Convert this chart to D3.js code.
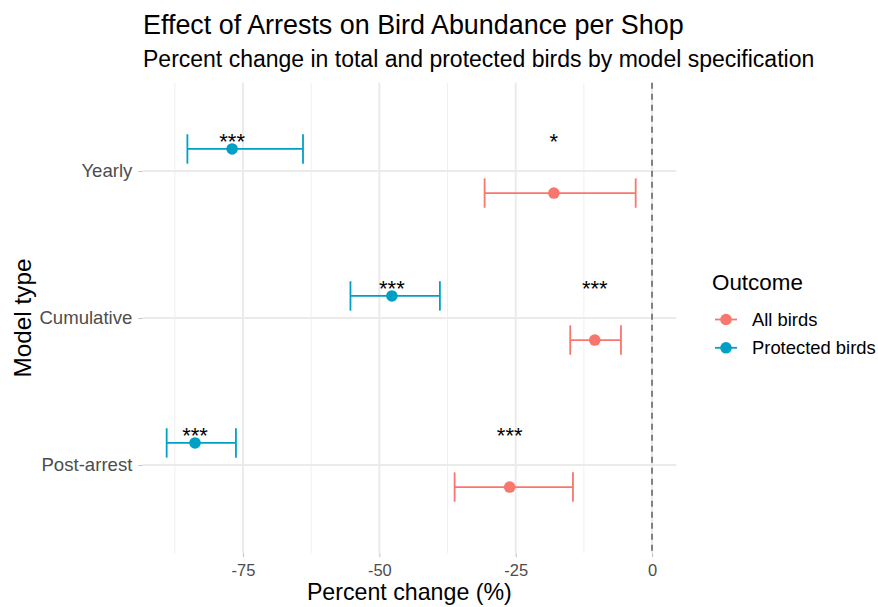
<!DOCTYPE html>
<html>
<head>
<meta charset="utf-8">
<script src="https://cdn.jsdelivr.net/npm/d3@7"></script>
<style>
  html, body { margin: 0; padding: 0; background: #ffffff; }
  svg { display: block; font-family: "Liberation Sans", Arial, Helvetica, sans-serif; }
</style>
</head>
<body>
<svg id="chart" width="878" height="607"></svg>
<script>
// Model specifications (top to bottom)
const models = ["Yearly", "Cumulative", "Post-arrest"];
const outcomes = ["All birds", "Protected birds"];

// Percent change estimates with confidence limits
const allEst = [-18.0, -10.5, -26.1];
const allLo  = [-30.7, -15.0, -36.2];
const allHi  = [-3.0,  -5.7,  -14.5];
const protEst = [-77.0, -47.7, -83.8];
const protLo  = [-85.2, -55.3, -89.0];
const protHi  = [-64.0, -38.9, -76.3];

// Significance markers
const allSig  = ["*", "***", "***"];
const protSig = ["***", "***", "***"];

const xTicks = [-75, -50, -25, 0];
const xMinor = [-87.5, -62.5, -37.5, -12.5];

const colors = { "All birds": "#F8766D", "Protected birds": "#00A0C6" };

const rows = [];
models.forEach((m, i) => {
  rows.push({ model: m, outcome: "All birds", est: allEst[i], lo: allLo[i], hi: allHi[i], sig: allSig[i] });
  rows.push({ model: m, outcome: "Protected birds", est: protEst[i], lo: protLo[i], hi: protHi[i], sig: protSig[i] });
});

const svg = d3.select("#chart");
const panel = { left: 142.4, right: 676.3, top: 82.8, bottom: 553.2 };

// x domain: data extent plus reference line at 0, expanded by 5%
const lo = d3.min(rows, d => d.lo), hi = Math.max(0, d3.max(rows, d => d.hi));
const pad = (hi - lo) * 0.05;
const x = d3.scaleLinear().domain([lo - pad, hi + pad]).range([panel.left, panel.right]);
const y = d3.scalePoint().domain(models).range([panel.top, panel.bottom]).padding(0.6);
const dodge = y.step() * 0.15;
const yPos = d => y(d.model) + (d.outcome === "Protected birds" ? -dodge : dodge);

// Grid
const grid = svg.append("g");
grid.selectAll("line.minor").data(xMinor).join("line")
  .attr("x1", d => x(d)).attr("x2", d => x(d))
  .attr("y1", panel.top).attr("y2", panel.bottom)
  .attr("stroke", "#F0F0F0").attr("stroke-width", 1.1);
grid.selectAll("line.majorx").data(xTicks).join("line")
  .attr("x1", d => x(d)).attr("x2", d => x(d))
  .attr("y1", panel.top).attr("y2", panel.bottom)
  .attr("stroke", "#EBEBEB").attr("stroke-width", 2);
grid.selectAll("line.majory").data(models).join("line")
  .attr("x1", panel.left).attr("x2", panel.right)
  .attr("y1", d => y(d)).attr("y2", d => y(d))
  .attr("stroke", "#EBEBEB").attr("stroke-width", 2);

// Axes (plain hyphen-minus in tick labels)
const xAxis = svg.append("g").attr("transform", `translate(0,${panel.bottom})`)
  .call(d3.axisBottom(x).tickValues(xTicks).tickSize(4).tickPadding(4).tickFormat(d => String(d)));
const yAxis = svg.append("g").attr("transform", `translate(${panel.left},0)`)
  .call(d3.axisLeft(y).tickSize(4).tickPadding(6));
[xAxis, yAxis].forEach(a => {
  a.select(".domain").remove();
  a.selectAll(".tick line").attr("stroke", "#C4C4C4").attr("stroke-width", 1.1);
  a.selectAll(".tick text").attr("fill", "#4D4D4D")
    .attr("font-family", "Liberation Sans, Arial, sans-serif");
});
xAxis.selectAll(".tick text").attr("font-size", 16.5).attr("dy", "0.9em");
yAxis.selectAll(".tick text").attr("font-size", 18.6);

// Reference line at zero
svg.append("line")
  .attr("x1", x(0)).attr("x2", x(0)).attr("y1", panel.top).attr("y2", panel.bottom)
  .attr("stroke", "#808080").attr("stroke-width", 2).attr("stroke-dasharray", "6,5");

// Error bars
const capH = y.step() * 0.1;
const bars = svg.append("g").selectAll("g").data(rows).join("g")
  .attr("stroke", d => colors[d.outcome]).attr("stroke-width", 1.8).attr("fill", "none");
bars.append("line").attr("x1", d => x(d.lo)).attr("x2", d => x(d.hi))
  .attr("y1", yPos).attr("y2", yPos);
bars.append("line").attr("x1", d => x(d.lo)).attr("x2", d => x(d.lo))
  .attr("y1", d => yPos(d) - capH).attr("y2", d => yPos(d) + capH);
bars.append("line").attr("x1", d => x(d.hi)).attr("x2", d => x(d.hi))
  .attr("y1", d => yPos(d) - capH).attr("y2", d => yPos(d) + capH);

// Points
svg.append("g").selectAll("circle").data(rows).join("circle")
  .attr("cx", d => x(d.est)).attr("cy", yPos).attr("r", 5.8)
  .attr("fill", d => colors[d.outcome]);

// Significance stars
svg.append("g").selectAll("text").data(rows).join("text")
  .attr("x", d => x(d.est)).attr("y", d => y(d.model) - dodge)
  .attr("text-anchor", "middle").attr("font-size", 22).attr("fill", "#000")
  .text(d => d.sig);

// Titles
svg.append("text").attr("x", 143).attr("y", 34).attr("font-size", 26.9).attr("fill", "#000")
  .text("Effect of Arrests on Bird Abundance per Shop");
svg.append("text").attr("x", 143).attr("y", 67).attr("font-size", 23).attr("fill", "#000")
  .text("Percent change in total and protected birds by model specification");
svg.append("text").attr("x", (panel.left + panel.right) / 2).attr("y", 600)
  .attr("text-anchor", "middle").attr("font-size", 23.2).attr("fill", "#000")
  .text("Percent change (%)");
svg.append("text").attr("transform", `translate(31,${(panel.top + panel.bottom) / 2}) rotate(-90)`)
  .attr("text-anchor", "middle").attr("font-size", 24.3).attr("fill", "#000")
  .text("Model type");

// Legend
const legend = svg.append("g").attr("transform", "translate(712,0)");
legend.append("text").attr("x", 0).attr("y", 290).attr("font-size", 22.4).attr("fill", "#000").text("Outcome");
const items = legend.selectAll("g.item").data(outcomes).join("g")
  .attr("transform", (d, i) => `translate(0,${319.5 + i * 28.3})`);
items.append("line").attr("x1", 3).attr("x2", 25).attr("y1", 0).attr("y2", 0)
  .attr("stroke", d => colors[d]).attr("stroke-width", 1.8);
items.append("circle").attr("cx", 14).attr("cy", 0).attr("r", 5.8).attr("fill", d => colors[d]);
items.append("text").attr("x", 40).attr("y", 6.5).attr("font-size", 18.4).attr("fill", "#000").text(d => d);
</script>
</body>
</html>
